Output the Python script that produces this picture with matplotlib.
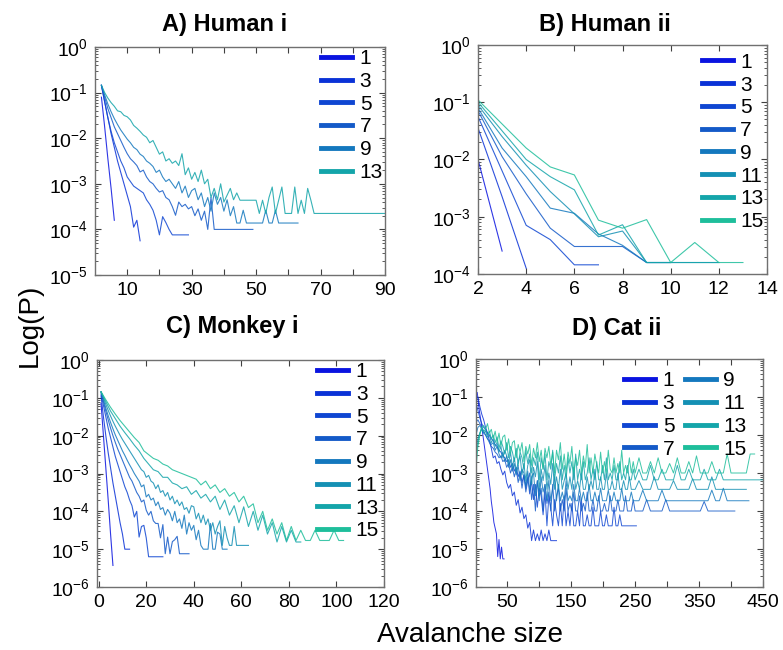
# %% imports
import numpy as np
import matplotlib.pyplot as plt
from matplotlib.ticker import LogLocator, NullFormatter

plt.rcParams["font.family"] = ["Liberation Sans", "DejaVu Sans"]
plt.rcParams["mathtext.default"] = "regular"

# colour per bin size (legend entries)
bin_colors = {1: "#0a14e0", 3: "#0a32d7", 5: "#0f46d2", 7: "#145ac8",
              9: "#1478be", 11: "#1490b4", 13: "#14a5aa", 15: "#1ebe9b"}

# ---------------- data: log10 P(avalanche size) ----------------
# each curve: first size, step between sizes, size where the flat tail ends

# A) Human i
a_bins = [1, 3, 5, 7, 9, 13]
a_start = [2, 2, 2, 2, 2, 2]
a_step = [1, 1, 1, 1, 1, 1]
a_tail = [None, None, 29, 49, 63, 90]
a1 = [-1.1, -1.75, -2.45, -3.1, -3.8]
a3 = [-0.84, -1.2, -1.55, -1.9, -2.2, -2.5, -2.75, -3.0, -3.25, -3.5, -3.95, -3.8, -4.25]
a5 = [-0.84, -1.2, -1.55, -1.85, -2.1, -2.3, -2.5, -2.65, -2.85, -2.95, -3.05, -3.1,
      -3.15, -3.2, -3.35, -3.45, -3.58, -3.8, -4.12, -3.72, -3.85, -4.0, -4.12]
a7 = [-0.84, -1.1, -1.35, -1.55, -1.75, -1.9, -2.05, -2.2, -2.34, -2.45, -2.52, -2.6,
      -2.74, -2.7, -2.85, -2.95, -3.0, -3.1, -3.18, -3.15, -3.3, -3.35, -3.5, -3.69,
      -3.4, -3.5, -3.45, -3.55, -3.5, -3.7, -3.55, -3.8, -3.6, -4.0, -3.3, -4.0]
a9 = [-0.84, -1.05, -1.25, -1.42, -1.57, -1.7, -1.82, -1.92, -2.02, -2.1, -2.2, -2.25,
      -2.35, -2.4, -2.5, -2.55, -2.62, -2.75, -2.7, -2.85, -2.95, -2.9, -3.0, -3.1,
      -2.95, -3.2, -3.05, -3.3, -3.15, -3.1, -3.35, -3.2, -3.5, -3.3, -3.6, -3.2,
      -3.45, -3.3, -3.6, -3.35, -3.7, -3.5, -3.86, -3.86, -3.58, -3.86, -3.86, -3.86,
      -3.86, -3.86, -3.86, -3.58, -3.86, -3.86, -3.58, -3.86]
a13 = [-0.84, -1.0, -1.12, -1.22, -1.3, -1.4, -1.42, -1.5, -1.53, -1.6, -1.72, -1.78,
       -1.85, -1.93, -1.98, -2.1, -2.05, -2.2, -2.35, -2.3, -2.5, -2.45, -2.55, -2.5,
       -2.6, -2.34, -2.8, -2.65, -2.9, -2.75, -2.95, -2.7, -3.0, -2.9, -3.3, -3.1,
       -3.35, -3.0, -3.4, -3.25, -3.1, -3.35, -3.2, -3.36, -3.36, -3.36, -3.36, -3.36,
       -3.36, -3.65, -3.36, -3.65, -3.3, -3.07, -3.65, -3.36, -3.07, -3.65, -3.65,
       -3.65, -3.07, -3.65, -3.36, -3.65, -3.1, -3.36, -3.65, -3.65]
a_logp = [a1, a3, a5, a7, a9, a13]

# B) Human ii
b_bins = [1, 3, 5, 7, 9, 11, 13, 15]
b_start = [2] * 8
b_step = [1] * 8
b_tail = [None] * 8
b1 = [-2.0, -3.6]
b3 = [-1.45, -2.65, -3.9]
b5 = [-1.25, -2.2, -3.15, -3.4, -3.84, -3.84]
b7 = [-1.15, -1.95, -2.6, -3.2, -3.52, -3.52, -3.52, -3.8, -3.8]
b9 = [-1.1, -1.8, -2.3, -2.85, -2.94, -3.3, -3.5, -3.8, -3.8]
b11 = [-1.05, -1.6, -2.1, -2.56, -2.95, -3.35, -3.25, -3.8, -3.8, -3.8, -3.8]
b13 = [-1.0, -1.5, -2.0, -2.3, -2.53, -3.32, -3.14, -3.8, -3.8, -3.8, -3.8]
b15 = [-0.96, -1.38, -1.8, -2.13, -2.27, -3.06, -3.2, -3.05, -3.8, -3.45, -3.8, -3.8]
b_logp = [b1, b3, b5, b7, b9, b11, b13, b15]

# C) Monkey i
c_bins = [1, 3, 5, 7, 9, 11, 13, 15]
c_start = [1] * 8
c_step = [1, 1, 1, 1, 1, 1, 2, 2]
c_tail = [None, None, 27, 38, None, None, 85, None]
c1 = [-1.15, -2.0, -2.85, -3.7, -4.6, -5.43]
c3 = [-0.95, -1.5, -2.0, -2.45, -2.85, -3.25, -3.6, -3.95, -4.3, -4.6, -5.0, -5.0, -5.0]
c5 = [-0.9, -1.2, -1.5, -1.8, -2.05, -2.3, -2.55, -2.75, -2.95, -3.15, -3.35, -3.5,
      -3.7, -3.85, -4.15, -4.0, -4.68, -4.4, -4.37, -4.7, -5.2]
c7 = [-0.85, -1.1, -1.35, -1.58, -1.8, -2.0, -2.18, -2.35, -2.5, -2.65, -2.8, -2.95,
      -3.1, -3.2, -3.35, -3.5, -3.6, -3.75, -3.7, -3.97, -4.1, -4.0, -4.25, -4.32,
      -4.32, -4.7, -4.35, -5.12, -4.68, -5.12, -4.8, -4.75, -4.66, -5.12]
c9 = [-0.84, -1.05, -1.27, -1.47, -1.65, -1.82, -1.98, -2.12, -2.26, -2.4, -2.52,
      -2.65, -2.77, -2.88, -3.0, -3.1, -3.2, -3.35, -3.3, -3.62, -3.55, -3.7, -3.65,
      -3.85, -3.75, -3.95, -3.9, -4.1, -3.95, -4.05, -4.25, -4.0, -4.3, -4.2, -4.45,
      -4.1, -4.6, -4.3, -4.5, -4.37, -4.75, -4.5, -4.9, -5.0, -5.0, -5.0, -4.32, -5.0,
      -5.0, -4.55, -4.6, -5.0, -5.0, -5.0]
c11 = [-0.84, -1.0, -1.17, -1.33, -1.48, -1.62, -1.75, -1.87, -1.99, -2.1, -2.2,
       -2.3, -2.4, -2.5, -2.6, -2.7, -2.8, -2.9, -2.95, -3.1, -3.05, -3.2, -3.25, -3.4,
       -3.3, -3.5, -3.45, -3.6, -3.5, -3.7, -3.6, -3.8, -3.7, -3.85, -3.75, -3.95, -3.9,
       -4.05, -3.85, -3.88, -4.2, -4.05, -4.3, -4.1, -4.35, -4.2, -4.5, -4.3, -4.6,
       -4.4, -4.25, -4.9, -4.4, -4.7, -4.9, -4.9, -4.4, -4.9, -4.9, -4.9, -4.9, -4.9,
       -4.9]
c13 = [-0.84, -1.1, -1.35, -1.55, -1.75, -1.92, -2.08, -2.25, -2.4, -2.6, -2.75,
       -2.9, -2.95, -3.1, -3.1, -3.25, -3.3, -3.4, -3.35, -3.55, -3.45, -3.65, -3.55,
       -3.75, -3.6, -3.95, -3.7, -4.1, -3.85, -4.3, -3.88, -4.4, -4.0, -4.5, -4.1,
       -4.6, -4.3, -4.81, -4.4, -4.81, -4.5, -4.81]
c15 = [-0.84, -1.05, -1.25, -1.43, -1.6, -1.75, -1.9, -2.05, -2.18, -2.4, -2.5,
       -2.6, -2.65, -2.75, -2.8, -2.9, -2.95, -3.0, -3.05, -3.1, -3.15, -3.3, -3.2,
       -3.4, -3.3, -3.5, -3.4, -3.6, -3.5, -3.75, -3.6, -3.9, -3.8, -4.3, -4.0, -4.5,
       -4.2, -4.6, -4.3, -4.77, -4.4, -4.77, -4.5, -4.77, -4.77, -4.5, -4.77, -4.77,
       -4.77, -4.5, -4.77, -4.77]
c_logp = [c1, c3, c5, c7, c9, c11, c13, c15]

# D) Cat ii: dense part (short step) followed by a sparse part (step 6)
d_bins = [1, 3, 5, 7, 9, 11, 13, 15]
d_start = [1] * 8
d_step = [2, 3, 3, 3, 3, 3, 3, 3]
d_tail = [None, None, 252, 406, 428, 424, 450, 437]
d1 = [-0.9, -0.88, -1.2, -1.45, -1.65, -1.9, -2.15, -2.4, -2.65, -2.9, -3.15, -3.4,
      -3.75, -4.0, -4.3, -4.45, -4.6, -5.2, -4.75, -5.26, -4.95, -5.26, -5.26]
d3 = [-1.0, -1.0, -1.25, -1.45, -1.6, -1.8, -1.95, -2.15, -2.35, -2.6, -2.55, -2.75,
      -2.7, -2.9, -3.05, -2.95, -3.25, -3.4, -3.3, -3.6, -3.5, -3.85, -3.7, -4.05,
      -3.9, -4.2, -4.1, -4.45, -4.3, -4.78, -4.5, -4.78, -4.6, -4.78, -4.5, -4.78,
      -4.6, -4.78, -4.5, -4.78, -4.78, -4.78, -4.78]
d5 = [-1.15, -1.35, -1.55, -1.7, -1.8, -1.85, -1.95, -2.0, -2.1, -2.15,
      -2.25, -2.3, -2.4, -2.45, -2.55, -2.6, -2.7, -2.65, -2.85, -2.75,
      -2.95, -2.85, -3.1, -2.95, -3.25, -3.05, -3.4, -3.1, -3.55, -3.2,
      -3.7, -3.3, -3.9, -3.4, -3.6, -4.1, -3.5, -4.39, -3.6, -3.9,
      -4.39, -3.7, -4.1, -4.39, -3.8, -4.39, -3.6, -4.39, -4.0, -4.39,
      -3.8, -4.39, -4.39, -4.0, -4.39, -3.7, -4.39, -4.39, -4.1, -4.39,
      -4.39, -3.9, -4.39, -4.39, -4.39, -4.0, -4.39, -4.39, -4.1, -4.39,
      -4.39, -4.39, -3.9, -4.39, -4.39, -4.1, -4.39, -4.39]
d7 = [-1.67, -1.6, -1.7, -1.8, -1.9, -2.0, -2.1, -2.2, -2.3, -2.35,
      -2.45, -2.5, -2.6, -2.55, -2.7, -2.65, -2.85, -2.75, -3.0, -2.85,
      -3.1, -2.9, -3.25, -3.0, -3.4, -3.05, -3.5, -3.2, -3.0, -3.7,
      -3.3, -4.0, -3.2, -3.6, -3.4, -4.0, -3.3, -3.8, -3.5, -4.0,
      -3.3, -4.0, -3.6, -3.4, -4.0, -3.7, -4.0, -3.4, -4.0, -3.8,
      -4.0, -3.5, -4.0, -4.0, -3.6, -4.0, -3.8, -4.0, -3.5, -4.0,
      -4.0, -3.7, -4.0, -4.0, -3.6, -4.0, -4.0, -3.8, -4.0, -4.0,
      -3.6, -4.0, -4.0, -4.0, -3.7, -4.0, -4.0, -4.0, -3.6, -4.0,
      -4.0, -4.0, -3.7, -4.0]
d9 = [-2.0, -1.8, -1.75, -1.85, -1.95, -2.0, -2.1, -2.15, -2.25, -2.2,
      -2.4, -2.3, -2.5, -2.6, -2.45, -2.7, -2.55, -2.85, -2.65, -2.95,
      -2.75, -3.05, -2.8, -3.2, -2.9, -3.0, -3.35, -2.95, -3.45, -3.1,
      -3.0, -3.6, -3.2, -3.73, -3.1, -3.5, -3.3, -3.73, -3.2, -3.73,
      -3.4, -3.1, -3.73, -3.3, -3.73, -3.5, -3.73, -3.2, -3.73, -3.6,
      -3.73, -3.3, -3.73, -3.73, -3.4, -3.73, -3.5, -3.73, -3.73, -3.3,
      -3.73, -3.73, -3.5, -3.73, -3.73, -3.4, -3.73, -3.73, -3.73, -3.45,
      -3.73, -3.73, -3.5, -3.73, -3.73, -3.73, -3.4, -3.73, -3.73, -3.73,
      -3.73, -3.5, -3.73, -3.73]
d11 = [-2.37, -2.1, -1.95, -1.85, -1.95, -1.9, -2.05, -2.0, -2.2, -2.1,
       -2.3, -2.2, -2.45, -2.3, -2.6, -2.4, -2.55, -2.75, -2.45, -2.85,
       -2.6, -2.95, -2.7, -2.55, -3.05, -2.75, -3.2, -2.8, -2.65, -3.3,
       -2.85, -3.1, -2.7, -3.43, -2.9, -3.2, -2.8, -3.43, -3.0, -3.3,
       -2.75, -3.43, -3.1, -3.43, -2.9, -3.43, -3.2, -3.0, -3.43, -3.1,
       -3.43, -2.85, -3.43, -3.2, -3.43, -3.0, -3.43, -3.43, -3.1, -3.43,
       -3.2, -3.43, -2.9, -3.43, -3.43, -3.1, -3.43, -3.43, -3.0, -3.43,
       -3.43, -3.2, -3.43, -3.43, -3.0, -3.43, -3.43, -3.2, -3.43, -3.43,
       -3.1, -3.43, -3.43, -3.43]
d13 = [-2.63, -2.2, -1.95, -1.8, -1.9, -1.85, -2.0, -1.9, -2.1, -2.0,
       -2.2, -2.05, -2.35, -2.15, -2.3, -2.5, -2.2, -2.6, -2.3, -2.45,
       -2.7, -2.35, -2.8, -2.45, -2.6, -2.9, -2.4, -2.75, -2.5, -3.0,
       -2.6, -2.8, -2.45, -3.18, -2.6, -2.9, -2.5, -3.18, -2.7, -2.9,
       -2.4, -3.18, -2.75, -3.0, -2.55, -3.18, -2.8, -3.18, -2.6, -3.0,
       -2.7, -3.18, -2.5, -3.18, -2.9, -3.18, -2.7, -3.18, -3.0, -2.6,
       -3.18, -2.9, -3.18, -2.7, -3.18, -3.18, -2.8, -3.18, -2.6, -3.18,
       -3.0, -3.18, -2.8, -3.18, -3.18, -2.7, -3.18, -3.0, -3.18, -2.8,
       -3.18, -3.18, -2.9, -3.18]
d15 = [-2.9, -2.3, -2.0, -1.8, -1.75, -1.85, -1.7, -1.95, -1.85, -2.1,
       -1.9, -2.2, -1.95, -2.3, -2.05, -2.0, -2.4, -2.1, -2.5, -2.2,
       -2.15, -2.6, -2.25, -2.45, -2.2, -2.7, -2.3, -2.5, -2.25, -2.8,
       -2.35, -2.6, -2.2, -2.7, -2.4, -2.9, -2.35, -2.6, -2.3, -2.8,
       -2.45, -3.0, -2.4, -2.65, -2.2, -2.9, -2.5, -3.0, -2.45, -2.75,
       -2.3, -3.0, -2.6, -2.8, -2.4, -3.0, -2.55, -2.85, -2.25, -3.0,
       -2.6, -3.0, -2.5, -2.8, -3.0, -2.45, -3.0, -2.7, -3.0, -2.4,
       -2.9, -3.0, -2.6, -3.0, -2.75, -3.0, -2.4, -3.0, -2.8, -3.0,
       -2.6, -3.0, -2.7, -3.0]
d_logp = [d1, d3, d5, d7, d9, d11, d13, d15]
# sparse far part, step 6 after the dense part
d7_far = [-4.0, -4.0, -3.7, -4.0, -4.0, -4.0, -4.0, -3.7, -4.0, -4.0, -4.0, -4.0,
          -4.0, -4.0, -4.0, -4.0, -4.0, -3.75, -4.0, -4.0]
d9_far = [-3.73, -3.45, -3.73, -3.73, -3.73, -3.73, -3.45, -3.73, -3.73, -3.73,
          -3.73, -3.73, -3.73, -3.73, -3.73, -3.73, -3.73, -3.73, -3.73, -3.45,
          -3.73, -3.73, -3.4, -3.73]
d11_far = [-3.2, -3.43, -3.43, -3.43, -3.1, -3.43, -3.43, -3.43, -3.43, -3.2, -3.43,
           -3.43, -3.43, -3.43, -3.15, -3.43, -3.43, -3.43, -3.43, -3.1, -3.43, -3.43]
d13_far = [-2.9, -3.18, -3.18, -2.8, -3.18, -3.18, -2.9, -3.18, -3.18, -3.18, -2.8,
           -3.18, -3.18, -2.9, -3.18, -3.18, -3.18, -2.9, -3.18, -3.18, -3.18, -2.9,
           -3.18]
d15_far = [-2.6, -3.0, -3.0, -2.7, -3.0, -2.6, -3.0, -3.0, -2.75, -3.0, -2.6, -3.0,
           -3.0, -2.7, -3.0, -2.55, -3.0, -3.0, -3.0, -2.7, -3.0, -3.0, -3.0, -2.5,
           -3.0, -3.0, -3.0, -3.0, -3.0, -2.5]
d_far = [None, None, None, d7_far, d9_far, d11_far, d13_far, d15_far]


def draw(ax, bins, starts, steps, tails, curves, far=None, lw=0.8):
    if far is None:
        far = [None] * len(bins)
    for b, x0, dx, xend, lp, lp_far in zip(bins, starts, steps, tails, curves, far):
        x = x0 + dx * np.arange(len(lp))
        logp = list(lp)
        if lp_far is not None:
            x = np.append(x, x[-1] + 6 * np.arange(1, len(lp_far) + 1))
            logp += lp_far
        y = 10.0 ** np.array(logp)
        if xend is not None:
            x = np.append(x, xend)
            y = np.append(y, y[-1])
        ax.plot(x, y, color=bin_colors[b], lw=lw, alpha=0.85, label=str(b))


def style(ax, xlim, ylim, xticks, xlabels):
    ax.set_yscale("log")
    ax.set_xlim(xlim)
    ax.set_ylim(ylim)
    ax.set_xticks(xticks)
    ax.set_xticklabels(xlabels)
    ax.yaxis.set_major_locator(LogLocator(base=10, numticks=10))
    ax.yaxis.set_minor_locator(LogLocator(base=10, subs=np.arange(2, 10), numticks=10))
    ax.yaxis.set_minor_formatter(NullFormatter())
    ax.tick_params(which="both", direction="in", top=True, right=True,
                   labelsize=14, colors="#404040", labelcolor="black")
    ax.tick_params(which="major", length=4, pad=5)
    ax.tick_params(which="minor", length=2)
    for sp in ax.spines.values():
        sp.set_color("#707070")
        sp.set_linewidth(1.0)


def add_legend(ax, ncol=1, anchor=(1.0, 1.0)):
    leg = ax.legend(loc="upper right", bbox_to_anchor=anchor, ncol=ncol,
                    frameon=False, fontsize=15, handlelength=1.5,
                    handletextpad=0.35, labelspacing=0.18, columnspacing=0.5,
                    borderaxespad=0.0, borderpad=0.1)
    for h in leg.legend_handles:
        h.set_linewidth(3.5)
        h.set_alpha(1.0)


fig = plt.figure(figsize=(7.83, 6.5), dpi=100)
ax_a = fig.add_axes([0.1213, 0.5769, 0.3704, 0.3508])
ax_b = fig.add_axes([0.6105, 0.5785, 0.3691, 0.3523])
ax_c = fig.add_axes([0.1239, 0.0969, 0.3665, 0.3492])
ax_d = fig.add_axes([0.6079, 0.0969, 0.3665, 0.3508])

draw(ax_a, a_bins, a_start, a_step, a_tail, a_logp)
style(ax_a, (0, 90), (1e-5, 1), np.arange(10, 91, 10),
      ["10", "", "30", "", "50", "", "70", "", "90"])
add_legend(ax_a, anchor=(1.0, 1.0))

draw(ax_b, b_bins, b_start, b_step, b_tail, b_logp)
style(ax_b, (2, 14), (1e-4, 1), np.arange(2, 15, 2),
      ["2", "4", "6", "8", "10", "12", "14"])
add_legend(ax_b, anchor=(0.995, 0.975))

draw(ax_c, c_bins, c_start, c_step, c_tail, c_logp)
style(ax_c, (-0.7, 120), (1e-6, 1), np.arange(0, 121, 20),
      ["0", "20", "40", "60", "80", "100", "120"])
add_legend(ax_c, anchor=(0.99, 1.0))

draw(ax_d, d_bins, d_start, d_step, d_tail, d_logp, far=d_far, lw=0.7)
style(ax_d, (1, 450), (1e-6, 1), np.arange(50, 451, 50),
      ["50", "", "150", "", "250", "", "350", "", "450"])
add_legend(ax_d, ncol=2, anchor=(0.95, 0.955))

# titles and shared labels
title_kw = dict(fontsize=17, fontweight="bold", ha="center", va="center")
fig.text(225 / 783, 1 - 25 / 650, "A) Human i", **title_kw)
fig.text(605 / 783, 1 - 25 / 650, "B) Human ii", **title_kw)
fig.text(232 / 783, 1 - 327 / 650, "C) Monkey i", **title_kw)
fig.text(617 / 783, 1 - 328 / 650, "D) Cat ii", **title_kw)
fig.text(30 / 783, 1 - 325 / 650, "Log(P)", fontsize=20, rotation=90,
         ha="center", va="center")
fig.text(470 / 783, 1 - 635 / 650, "Avalanche size", fontsize=20,
         ha="center", va="center")

plt.savefig("out.png", dpi=100)
